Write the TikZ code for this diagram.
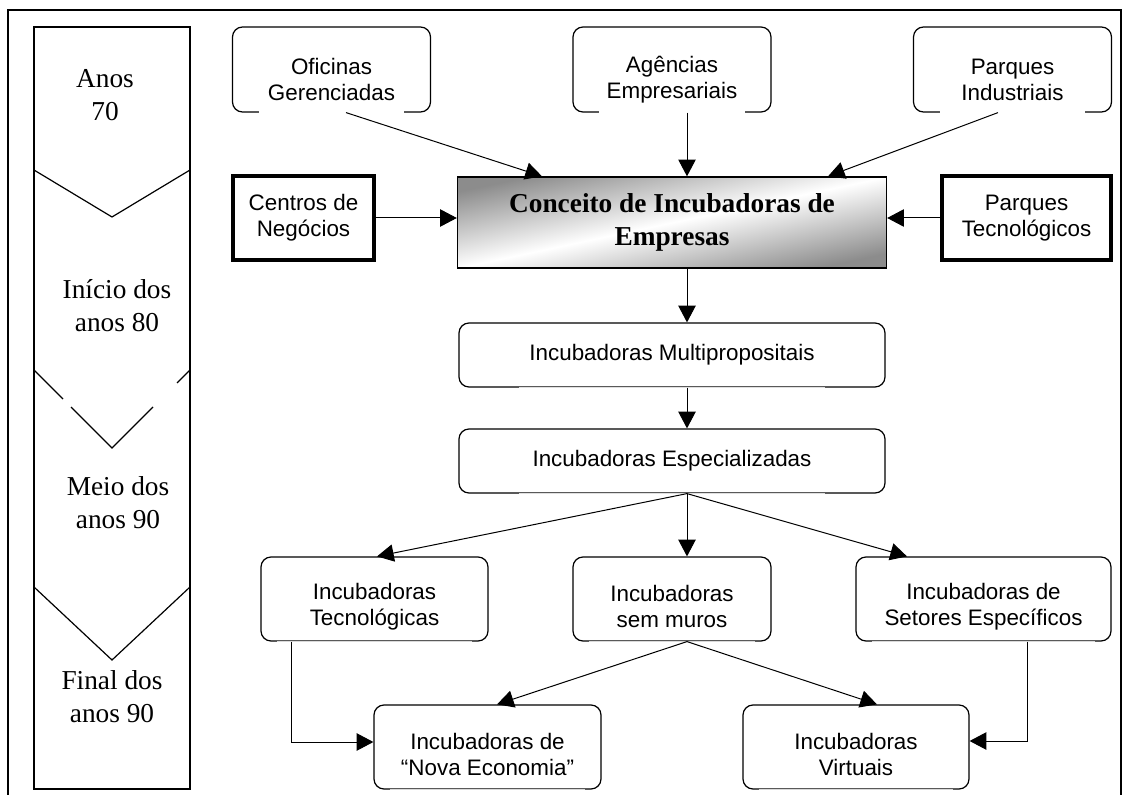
\documentclass[tikz,border=0pt]{standalone}
\usepackage{fontspec}
\setmainfont{Liberation Serif}
\setsansfont{Liberation Sans}
\usetikzlibrary{arrows.meta,calc}

\begin{document}
\begin{tikzpicture}[x=0.75pt, y=-0.75pt,
        rbox/.style={draw, rounded corners=7.5pt, line width=0.9pt, align=center, inner sep=0pt,
            font=\sffamily\fontsize{16.8}{19.5}\selectfont},
        lowtext/.style={execute at begin node={\rule{0pt}{#1}}},
        topbox/.style={rbox, lowtext=47pt, minimum width=148.5pt, minimum height=63.75pt},
        midbox/.style={rbox, minimum width=319.5pt, minimum height=48pt},
        lowbox/.style={rbox, lowtext=43pt, minimum height=63pt},
        thickbox/.style={draw, line width=3.2pt, align=center, inner sep=0pt, minimum height=63pt,
            font=\sffamily\fontsize{16.8}{19.5}\selectfont},
        mainbox/.style={draw, line width=1pt, align=center, inner sep=0pt,
            minimum width=321.75pt, minimum height=68.25pt,
            top color=black!45, bottom color=black!45, middle color=white, shading angle=12,
            font=\bfseries\fontsize{20.5}{24.75}\selectfont},
        era/.style={align=center, font=\fontsize{20.5}{24.75}\selectfont},
        col/.style={line width=0.9pt},
        arr/.style={-{Triangle[length=12.5pt,width=13pt]}, line width=0.75pt}]
    \useasboundingbox (0,0) rectangle (1125,795);
    \draw[line width=1.5pt] (8,800) -- (8,10) -- (1121,10) -- (1121,800);

    % time line on the left
    \draw[col] (34,27) rectangle (190,789);
    \draw[col] (34,170) -- (112,217) -- (190,170);
    \draw[col] (34,370) -- (63,399);
    \draw[col] (71,407) -- (112,448) -- (153,407);
    \draw[col] (177,383) -- (190,370);
    \draw[col] (34,587) -- (112,660) -- (190,587);
    \node[era] (a70) at (105,95) {Anos\\70};
    \node[era] (a80) at (117,306) {Início dos\\anos 80};
    \node[era] (a90m) at (118,503) {Meio dos\\anos 90};
    \node[era] (a90f) at (112,697) {Final dos\\anos 90};

    % boxes
    \node[topbox] (ofi) at (331.5,69.5) {Oficinas\\Gerenciadas};
    \node[topbox] (age) at (672,69.5) {Agências\\Empresariais};
    \node[topbox] (pind) at (1012.5,69.5) {Parques\\Industriais};
    \node[thickbox, minimum width=105.75pt] (cen) at (303.5,218) {Centros de\\Negócios};
    \node[thickbox, minimum width=126.75pt] (ptec) at (1026.5,218) {Parques\\Tecnológicos};
    \node[mainbox] (con) at (672,222.5) {Conceito de Incubadoras de\\Empresas};
    \node[midbox] (mul) at (672,355) {Incubadoras Multipropositais};
    \node[midbox] (esp) at (672,461) {Incubadoras Especializadas};
    \node[lowbox, minimum width=170.25pt] (tec) at (374.5,599) {Incubadoras\\Tecnológicas};
    \node[lowbox, minimum width=148.5pt] (sem) at (672,599) {Incubadoras\\sem muros};
    \node[lowbox, minimum width=191.25pt] (set) at (983.5,599) {Incubadoras de\\Setores Específicos};
    \node[lowbox, minimum width=170.25pt] (nov) at (487.5,747) {Incubadoras de\\“Nova Economia”};
    \node[lowbox, minimum width=169.5pt] (vir) at (856,747) {Incubadoras\\Virtuais};

    % broken bottom edges
    \foreach \n in {ofi,age,pind}
        \draw[white, line width=2pt] ($(\n.south west)+(27,0)$) -- ($(\n.south east)+(-27,0)$);
    \foreach \n in {mul,esp}
        \draw[gray!25, line width=1pt] ($(\n.south west)+(61,0)$) -- ($(\n.south east)+(-61,0)$);
    \foreach \n in {tec,sem,set,nov,vir}
        \draw[gray!30, line width=1pt] ($(\n.south west)+(17,0)$) -- ($(\n.south east)+(-17,0)$);

    % connectors
    \draw[arr] ($(ofi.south)+(14.5,0)$) -- ($(con.north)+(-130,0)$);
    \draw[arr] ($(age.south)+(15,0)$) -- ($(con.north)+(15,0)$);
    \draw[arr] ($(pind.south)+(-14.5,0)$) -- ($(con.north)+(156,0)$);
    \draw[arr] (cen.east) -- (cen.east -| con.west);
    \draw[arr] (ptec.west) -- (ptec.west -| con.east);
    \draw[arr] ($(con.south)+(15,0)$) -- ($(mul.north)+(15,0)$);
    \draw[arr] ($(mul.south)+(15,0)$) -- ($(esp.north)+(15,0)$);
    \draw[arr] ($(esp.south)+(15,0)$) -- ($(tec.north)+(2.5,0)$);
    \draw[arr] ($(esp.south)+(15,0)$) -- ($(sem.north)+(15,0)$);
    \draw[arr] ($(esp.south)+(15,0)$) -- ($(set.north)+(-76.5,0)$);
    \draw[arr] ($(sem.south)+(15,0)$) -- ($(nov.north)+(9.5,0)$);
    \draw[arr] ($(sem.south)+(15,0)$) -- ($(vir.north)+(21,0)$);
    \draw[arr] ($(tec.south)+(-83.5,0)$) |- ($(nov.west)+(0,-5)$);
    \draw[arr] ($(set.south)+(43.5,0)$) |- ($(vir.east)+(0,-6)$);
\end{tikzpicture}
\end{document}
